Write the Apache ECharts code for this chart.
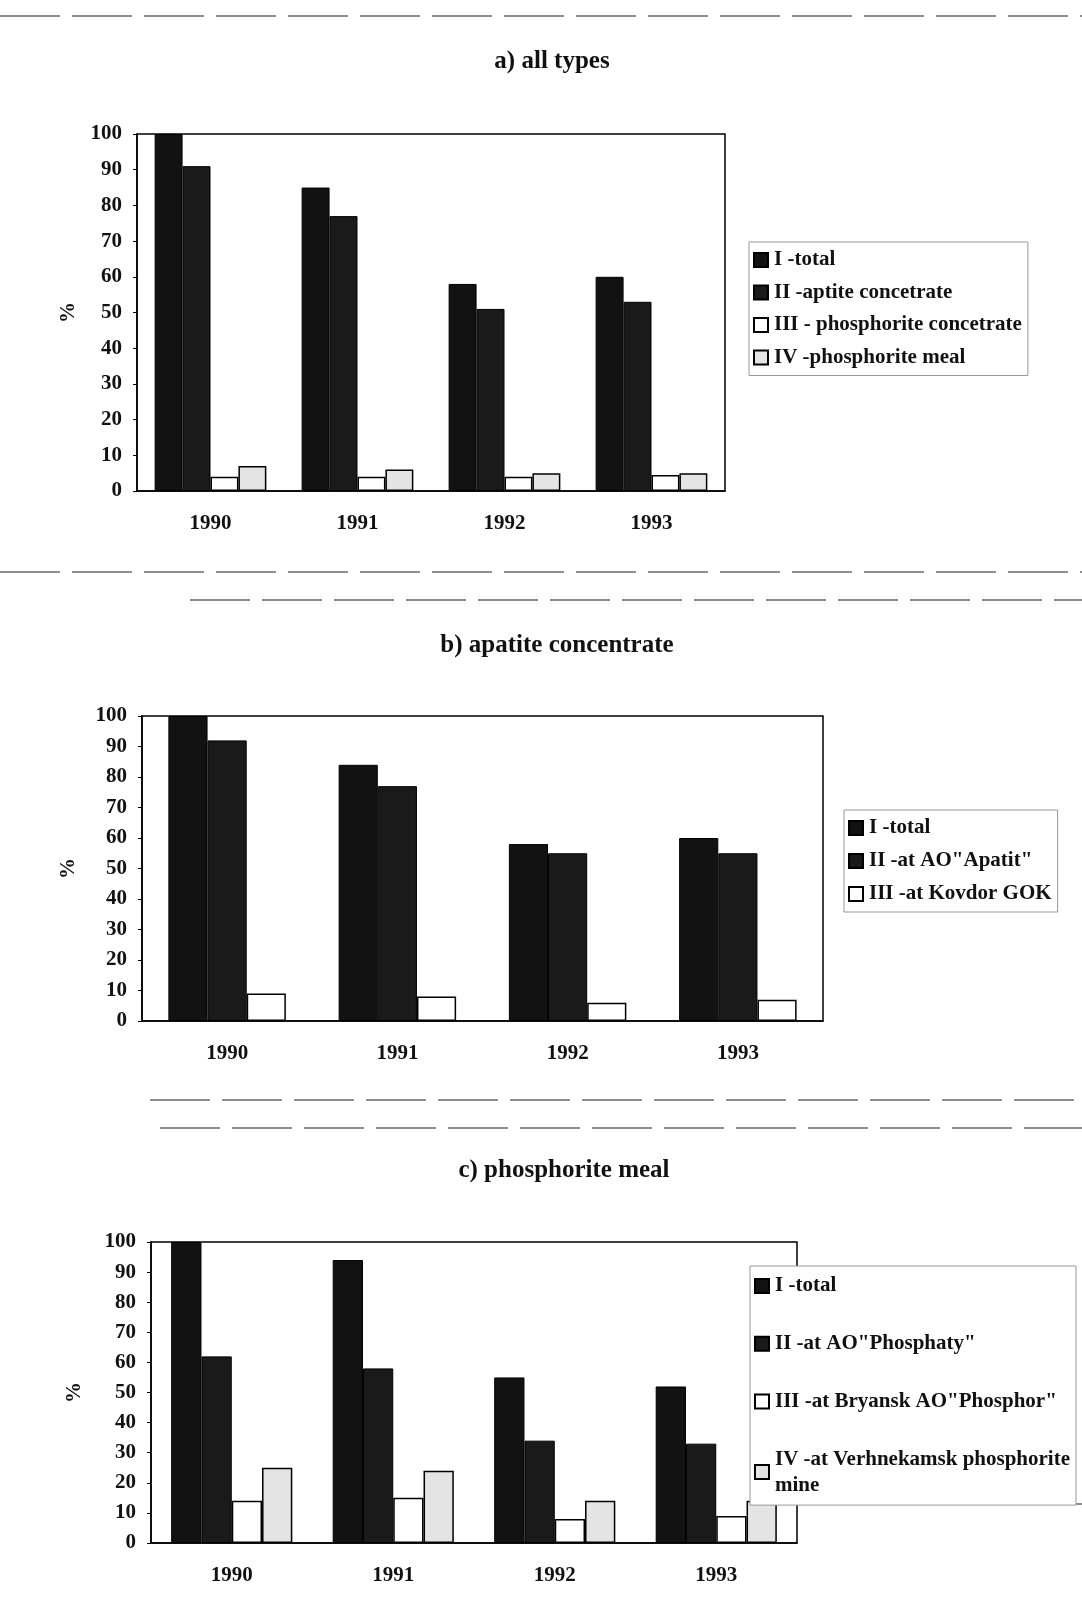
<!DOCTYPE html>
<html>
<head>
<meta charset="utf-8">
<script src="https://cdn.jsdelivr.net/npm/echarts@6/dist/echarts.min.js"></script>
<style>
  html, body { margin: 0; padding: 0; background: #fff; }
  #main { width: 1082px; height: 1609px; }
</style>
</head>
<body>
<div id="main"></div>
<script>
// years on the x axis (same for all three panels)
var years = ['1990', '1991', '1992', '1993']

// a) all types
var aNames = ['I -total', 'II -aptite concetrate', 'III - phosphorite concetrate', 'IV -phosphorite meal']
var aTotal = [100, 85, 58, 60]
var aApatite = [91, 77, 51, 53]
var aPhosConc = [4, 4, 4, 4.5]
var aPhosMeal = [7, 6, 5, 5]

// b) apatite concentrate
var bNames = ['I -total ', 'II -at AO"Apatit"', 'III -at Kovdor GOK']
var bTotal = [100, 84, 58, 60]
var bApatit = [92, 77, 55, 55]
var bKovdor = [9, 8, 6, 7]

// c) phosphorite meal
var cNames = ['I -total  ', 'II -at AO"Phosphaty"', 'III -at Bryansk AO"Phosphor"', 'IV -at Verhnekamsk phosphorite mine']
var cTotal = [100, 94, 55, 52]
var cPhosphaty = [62, 58, 34, 33]
var cBryansk = [14, 15, 8, 9]
var cVerhnekamsk = [25, 24, 14, 14]

var yMin = 0, yMax = 100, yStep = 10

var serif = '"Liberation Serif", "DejaVu Serif", serif'
var txt = { fontFamily: serif, fontWeight: 'bold', color: '#111' }

var styles = [
  { color: '#121212', borderColor: '#000', borderWidth: 1 },
  { color: '#1a1a1a', borderColor: '#000', borderWidth: 1 },
  { color: '#ffffff', borderColor: '#000', borderWidth: 1.5 },
  { color: '#e4e4e4', borderColor: '#000', borderWidth: 1.5 }
]

function xAx(i) {
  return {
    type: 'category', gridIndex: i, data: years,
    axisLine: { lineStyle: { color: '#000', width: 1.5 } },
    axisTick: { show: false },
    axisLabel: Object.assign({ fontSize: 21, margin: 22 }, txt)
  }
}
function yAx(i, nameGap) {
  return {
    type: 'value', gridIndex: i, min: yMin, max: yMax, interval: yStep,
    name: '%', nameLocation: 'middle', nameGap: nameGap,
    nameTextStyle: Object.assign({ fontSize: 21 }, txt),
    axisLine: { show: true, lineStyle: { color: '#000', width: 1.5 } },
    axisTick: { show: true, length: 4, lineStyle: { color: '#000' } },
    splitLine: { show: false },
    axisLabel: Object.assign({ fontSize: 21, margin: 15 }, txt)
  }
}
function bars(names, lists, idx, gap) {
  return lists.map(function (d, k) {
    return {
      type: 'bar', name: names[k], data: d,
      xAxisIndex: idx, yAxisIndex: idx,
      barGap: '0%', barCategoryGap: gap,
      itemStyle: styles[k], z: 2
    }
  })
}
function leg(names, left, top, gap, lh) {
  return {
    data: names, orient: 'vertical', left: left, top: top,
    icon: 'rect', itemWidth: 14, itemHeight: 14, itemGap: gap,
    padding: [7, 6, 7, 4],
    backgroundColor: '#fff', borderColor: '#999', borderWidth: 1,
    selectedMode: false, z: 10,
    formatter: function (n) { return n.trim().replace('phosphorite mine', 'phosphorite\nmine') },
    textStyle: Object.assign({ fontSize: 21, lineHeight: lh, padding: [0, 0, 0, 1] }, txt)
  }
}

var sepLines = [
  [0, 16, 1082, 16], [0, 572, 1082, 572], [190, 600, 1082, 600],
  [150, 1100, 1082, 1100], [160, 1128, 1082, 1128], [960, 1504, 1082, 1504]
].map(function (p) {
  return {
    type: 'line', shape: { x1: p[0], y1: p[1], x2: p[2], y2: p[3] },
    style: { stroke: '#666', lineWidth: 1.3, lineDash: [60, 12] }, silent: true
  }
})

var chart = echarts.init(document.getElementById('main'), null, { renderer: 'canvas' })
chart.setOption({
  backgroundColor: '#fff',
  animation: false,
  title: [
    { text: 'a) all types', left: 547, top: 44, textAlign: 'center', textStyle: Object.assign({ fontSize: 25 }, txt) },
    { text: 'b) apatite concentrate', left: 552, top: 628, textAlign: 'center', textStyle: Object.assign({ fontSize: 25 }, txt) },
    { text: 'c) phosphorite meal', left: 559, top: 1153, textAlign: 'center', textStyle: Object.assign({ fontSize: 25 }, txt) }
  ],
  grid: [
    { left: 137, top: 134, width: 588, height: 357, show: true, borderColor: '#000', borderWidth: 1.5 },
    { left: 142, top: 716, width: 681, height: 305, show: true, borderColor: '#000', borderWidth: 1.5 },
    { left: 151, top: 1242, width: 646, height: 301, show: true, borderColor: '#000', borderWidth: 1.5 }
  ],
  xAxis: [xAx(0), xAx(1), xAx(2)],
  yAxis: [yAx(0, 58), yAx(1, 63), yAx(2, 66)],
  legend: [
    leg(aNames, 749, 242, 10.5, 22),
    leg(bNames, 844, 810, 11, 22),
    leg(cNames, 750, 1266, 31.7, 26)
  ],
  graphic: sepLines,
  series: [].concat(
    bars(aNames, [aTotal, aApatite, aPhosConc, aPhosMeal], 0, '24%'),
    bars(bNames, [bTotal, bApatit, bKovdor], 1, '31%'),
    bars(cNames, [cTotal, cPhosphaty, cBryansk, cVerhnekamsk], 2, '25%')
  )
})
</script>
</body>
</html>
